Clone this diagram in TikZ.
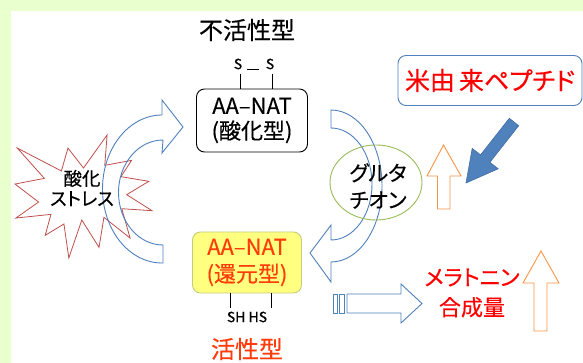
\documentclass[tikz,border=0pt]{standalone}
\usepackage{fontspec}
\setmainfont[FakeBold=0.3]{Noto Sans CJK JP}
\newfontfamily\jpp[RawFeature={+palt},FakeBold=0.3]{Noto Sans CJK JP}
\usetikzlibrary{shapes.geometric}
\definecolor{bggreen}{RGB}{234,255,206}
\definecolor{arrowblue}{RGB}{79,129,189}
\definecolor{starred}{RGB}{192,80,77}
\definecolor{ellgreen}{RGB}{155,187,89}
\definecolor{orangec}{RGB}{247,150,70}
\definecolor{redtxt}{RGB}{255,0,0}
\definecolor{orangered}{RGB}{255,60,10}
\definecolor{yellowfill}{RGB}{255,255,128}
\definecolor{yellowdraw}{RGB}{195,205,125}
\newcommand{\fs}[2]{\fontsize{#1pt}{#2pt}\selectfont}
\begin{document}
\begin{tikzpicture}[x=1pt,y=-1pt,
  txt/.style={inner sep=0pt, align=center},
  bluearrow/.style={draw=arrowblue, line width=0.9pt, line join=miter},
  orangearrow/.style={draw=orangec, fill=white, line width=0.9pt},
  roundbox/.style={rounded corners=8pt, line width=0.9pt, inner sep=0pt, align=center}]
\useasboundingbox (0,0) rectangle (583,363);
\fill[bggreen] (0,0) rectangle (583,363);
\fill[white] (11,11) rectangle (583,363);

% starburst
\begin{scope}[xshift=15pt,yshift=-135pt,x=1.37pt,y=-1.23pt]
\draw[starred, fill=white, line width=0.8pt, line join=miter]
 (50,26.85) -- (67.23,0) -- (65.53,24.65) -- (85.09,20.63) -- (77.32,33.87)
 -- (97.67,37.67) -- (81.51,48.50) -- (100,61.53) -- (77.95,59.92)
 -- (84.00,83.77) -- (64.91,66.93) -- (61.33,91.38) -- (48.76,69.14)
 -- (39.28,100) -- (35.72,72.35) -- (22.05,81.56) -- (26.24,64.52)
 -- (0.63,67.53) -- (17.23,54.51) -- (0,39.88) -- (21.42,35.26)
 -- (1.71,10.63) -- (33.85,29.26) -- (38.67,10.63) -- cycle;
\end{scope}

% left curved arrow
\draw[bluearrow] (163,263) -- (163,245)
  arc[start angle=90,end angle=270,x radius=44.5,y radius=52.5]
  -- (162,153) -- (183,127) -- (162,100) -- (162,115)
  arc[start angle=270,end angle=90,x radius=59.5,y radius=74] -- cycle;

\node[txt, font={\jpp\fs{18.5}{20}}] (stress) at (82,188) {酸化\\ストレス};

% right curved arrow
\draw[bluearrow] (331,110)
  arc[start angle=-90,end angle=90,x radius=51,y radius=76]
  -- (331,282) -- (310,253) -- (331,225) -- (331,240)
  arc[start angle=90,end angle=-90,x radius=41,y radius=56] -- cycle;

% glutathione
\node[ellipse, draw=ellgreen, line width=0.9pt, minimum width=92pt, minimum height=75pt, inner sep=0pt] (glut) at (376,182.5) {};
\node[txt, font={\jpp\fs{21}{27}}] (gluttext) at (378,186) {グルタ\\チオン};

% title
\node[txt, font=\fs{24}{26}] (title) at (247,30) {不活性型};

% oxidized box
\node[roundbox, draw=black, minimum width=111pt, minimum height=63pt, font=\fs{22}{25}] (ox) at (252,120.5) {AA–NAT\\(酸化型)};
\node[txt, font=\fs{14}{16}] (s1) at (238,64) {S};
\node[txt, font=\fs{14}{16}] (s2) at (270,64) {S};
\draw[line width=0.8pt] (247,69) -- (259,69);
\draw[line width=0.8pt] (240,74) -- (240,74 |- ox.north);
\draw[line width=0.8pt] (272,74) -- (272,74 |- ox.north);

% reduced box
\node[roundbox, draw=yellowdraw, fill=yellowfill, minimum width=109pt, minimum height=61pt, font=\fs{22}{27}, text=orangered] (red) at (247,262.5) {AA–NAT\\(還元型)};
\node[txt, font=\fs{14}{16}] (shhs) at (247,317) {SH HS};
\draw[line width=0.8pt] (230,308 |- red.south) -- (230,308);
\draw[line width=0.8pt] (271,308 |- red.south) -- (271,308);
\node[txt, font=\fs{24}{26}, text=orangered] (active) at (247,349) {活性型};

% rice peptide box
\node[roundbox, draw=arrowblue, minimum width=184pt, minimum height=50pt, font={\jpp\fs{25}{28}}, text=redtxt] (rice) at (490,80.5) {米由\hspace{4pt}来ペプチド};

% solid blue arrow
\draw[fill=arrowblue, draw=arrowblue!85!black, line width=0.6pt]
 (509.3,118.3) -- (480.5,154.9) -- (472.2,148.4) -- (466,183)
 -- (498.2,168.8) -- (489.9,162.3) -- (518.7,125.7) -- cycle;

% small orange up arrow
\draw[orangearrow] (437.5,209) -- (437.5,176) -- (427,176) -- (443.5,145)
 -- (461,176) -- (450,176) -- (450,209) -- cycle;

% striped arrow
\draw[bluearrow] (333,294) rectangle (337,313);
\draw[bluearrow] (339,294) rectangle (344,313);
\draw[bluearrow] (347,294) -- (401,294) -- (401,284) -- (422,303.5)
 -- (401,323) -- (401,313) -- (347,313) -- cycle;

% melatonin
\node[txt, font={\jpp\fs{22}{30}}, text=redtxt] (mel) at (472,293) {メラトニン\\合成量};

% big orange up arrow
\draw[orangearrow] (534,331) -- (534,283) -- (523,283) -- (541,251)
 -- (559,283) -- (547,283) -- (547,331) -- cycle;
\end{tikzpicture}
\end{document}
